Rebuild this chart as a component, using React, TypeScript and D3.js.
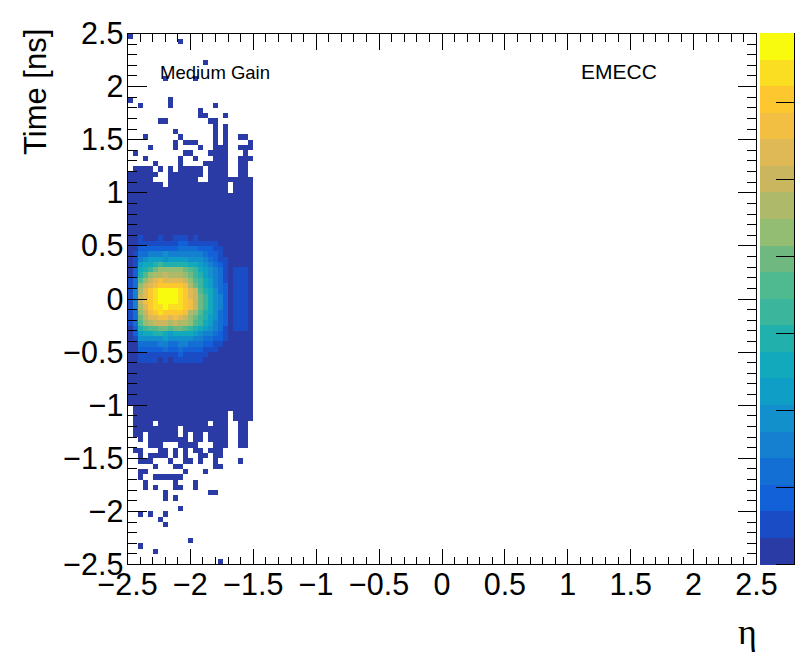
import React from "react";
import * as d3 from "d3";

const E = ".........................";
const F = "0000000000000000000000000";
// time-eta occupancy: rows from t=+2.5 down to t=-2.5, cols from eta=-2.5 to -1.5; char = colour level
const cellLevels: string[] = [
  "0........................", "..........0..............", E, E, E,
  "...............0.........", E, E, ".......0.....0...........", E,
  E, E, "0.......0................", "..0.....0........0.......", "..............0..........",
  "..............00...0.....", "......00........00.......", ".................0.0.....", ".........0.......0.0.....", "...0......0......0.0..00.",
  ".........0.000...0.0....0", "....0....0....0..000..000", ".0.........00...0000...0.", "...0......0..0...000..000", ".....0....0....00000..00.",
  ".0000.0.0.00000.0000..00.", "000000..0000000.0000..00.", "00000...000000..000000000", "0000000.000000000000.0000", "00000000000000000000.0000",
  F, F, F, F, F, F, F, F,
  "0010001001110100000000000",
  "0011111111221111110000000",
  "0022222222333322211000000",
  "0133444544444443221000000",
  "0145666566665554321100000",
  "0167789888887765432100000",
  "02789bcccccba976543101110",
  "028acddedddcb986543101110",
  "13acefgffffeca97643101110",
  "13cefghhhhhgdb97643201110",
  "14dfhijjjjihfea8753201110",
  "14efhijjjjihfeb9754201110",
  "14eghijjjjihgeb9754201110",
  "14dfhiijiiihgeb9754201110",
  "13ceghihhhhgdca8753201110",
  "13bdffggfgfecb98653201110",
  "13acdeeededdca97643201110",
  "0289aabbabba9876543101110",
  "0267788767777654432100000",
  "0155555655555443322100000",
  "0033334433443332211000000",
  "0022222322322221110000000",
  "0011111111211111000000000",
  "0011110101111110000000000",
  F, F, F, F, F, F, F, F,
  ".000000000000000000000000", ".0000000000000000000.0000", ".0000000000000000000.0000",
  ".0000.0000000000.000..00.", ".000000000.000000000..00.", ".00.000000.0.00.0000..00.", "..0.00000000.00.0000..00.",
  "....000...0000...000..00.", ".00...00.0.0.00.000......", "..0.0000.0.0..00.00......", "..000...0..00.0..0....0..",
  ".....0...00......00......", "..00.......0...0.........", "..0..000000..............", "...0.....0...0...........",
  "...0.0...00..0...........", ".......0........00.......", ".......0.0...............", E,
  "..........0..............", "..0.0..0.................", "......0..................", ".......0.................", E, E,
  "............0............", "..0......................", ".....0...................", E, "..................0......",
];
const levelColors = [
  "#2a3ba5", "#1a4dc5", "#1261d8", "#146fd4", "#1480cf", "#1190cb", "#0f9fc6", "#12a9bd", "#22b0ac", "#3bb69c",
  "#4fb98f", "#6fb981", "#93bd73", "#aeb96a", "#cab65f", "#dfb955", "#f3bf42", "#fdc72f", "#f9de22", "#f9fb0e",
];
const etaTicks = d3.range(-25, 26, 5).map((d) => d / 10);
const etaMinor = d3.range(-25, 26, 1).map((d) => d / 10);
const timeTicks = etaTicks;
const timeMinor = d3.range(-25, 26, 1).map((d) => d / 10);
const paletteTicks = [0, 1, 2, 3, 4, 5, 6];
const paletteMax = 6.91;
const labels = { x: "η", y: "Time [ns]", gain: "Medium Gain", region: "EMECC" };

const font = "'Liberation Sans', Arial, sans-serif";
const fmt = (v: number) => (v < 0 ? "\u2212" : "") + String(Math.abs(v));

export default function App() {
  const x = d3.scaleLinear().domain([-2.5, 2.5]).range([127.5, 756.5]);
  const y = d3.scaleLinear().domain([-2.5, 2.5]).range([564.5, 33.5]);
  const pal = d3.scaleLinear().domain([0, paletteMax]).range([564.5, 33]);
  const level = d3.scaleBand<number>().domain(d3.range(20)).range([564.5, 33]);
  const etaW = 0.04;
  const timeH = 0.05;
  const cells: React.ReactNode[] = [];
  cellLevels.forEach((row, r) => {
    for (let c = 0; c < 25; c++) {
      const ch = row[c];
      if (!ch || ch === ".") continue;
      const lv = parseInt(ch, 20);
      const x0 = x(-2.5 + c * etaW);
      const x1 = x(-2.5 + (c + 1) * etaW);
      const y0 = y(2.5 - r * timeH);
      const y1 = y(2.5 - (r + 1) * timeH);
      cells.push(<rect key={r + "-" + c} x={x0} y={y0} width={x1 - x0} height={y1 - y0} fill={levelColors[lv]} shapeRendering="crispEdges" />);
    }
  });
  const major = (v: number) => Math.abs(Math.round(v * 10) % 5) === 0;
  return (
    <svg width={796} height={672} style={{ position: "absolute", left: 0, top: 0, background: "#fff" }} fontFamily={font}>
      {cells}
      {d3.range(20).map((i) => (
        <rect key={i} x={760} y={level(i)} width={34.5} height={level.bandwidth()} fill={levelColors[i]} shapeRendering="crispEdges" />
      ))}
      <g stroke="#000" strokeWidth={1} shapeRendering="crispEdges">
        <rect x={127.5} y={33.5} width={629} height={531} fill="none" />
        {etaMinor.map((v) => {
          const len = major(v) ? 16 : 8;
          return (
            <g key={v}>
              <line x1={x(v)} x2={x(v)} y1={564.5} y2={564.5 - len} />
              <line x1={x(v)} x2={x(v)} y1={33.5} y2={33.5 + len} />
            </g>
          );
        })}
        {timeMinor.map((v) => {
          const len = major(v) ? 19 : 9.5;
          return (
            <g key={v}>
              <line x1={127.5} x2={127.5 + len} y1={y(v)} y2={y(v)} />
              <line x1={756.5} x2={756.5 - len} y1={y(v)} y2={y(v)} />
            </g>
          );
        })}
        <line x1={794.5} x2={794.5} y1={33} y2={565} />
        {paletteTicks.map((v) => (
          <line key={v} x1={776} x2={794.5} y1={pal(v)} y2={pal(v)} />
        ))}
      </g>
      <g fontSize={30.5} fill="#000">
        {etaTicks.map((v) => (
          <text key={v} x={x(v)} y={595} textAnchor="middle">{fmt(v)}</text>
        ))}
        {timeTicks.map((v) => (
          <text key={v} x={123.5} y={y(v) + 10.5} textAnchor="end">{fmt(v)}</text>
        ))}
      </g>
      <text transform="translate(46,155) rotate(-90)" fontSize={31} fill="#000">{labels.y}</text>
      <text x={738} y={644} fontSize={36} fill="#000" fontFamily="'Liberation Serif', serif">{labels.x}</text>
      <text x={160} y={79} fontSize={18.5} fill="#000">{labels.gain}</text>
      <text x={581} y={78.5} fontSize={21} fill="#000">{labels.region}</text>
    </svg>
  );
}
